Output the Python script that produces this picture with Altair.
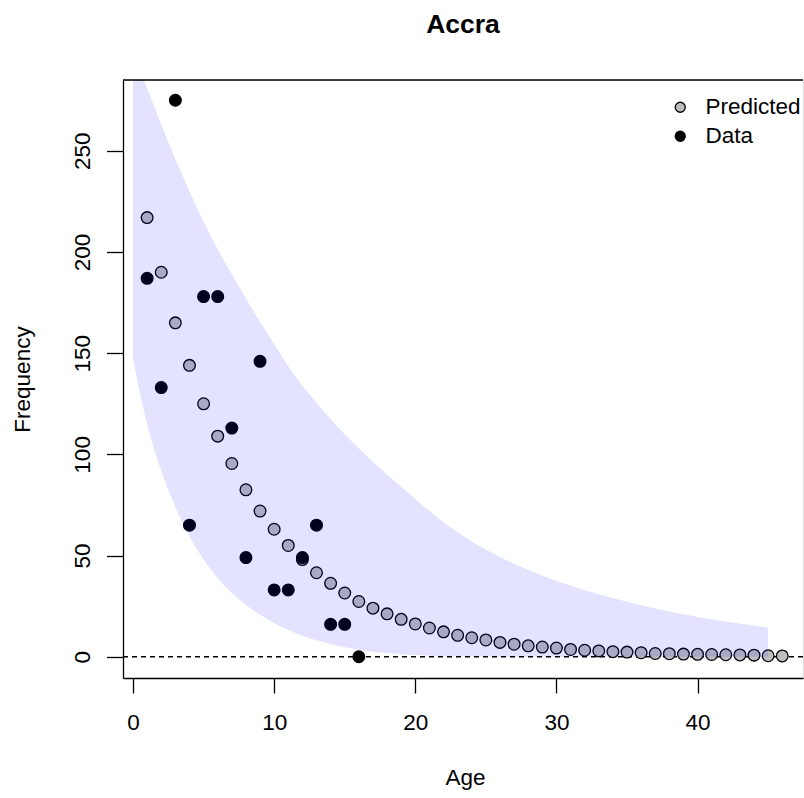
import altair as alt
import pandas as pd

# ---- data ----
pred_age = list(range(1, 47))
predicted = [217, 190, 165, 144, 125, 109, 95.5, 82.5, 72, 63,
             55, 48, 41.5, 36.3, 31.5, 27.3, 24, 21.2, 18.5, 16.2,
             14.2, 12.3, 10.6, 9.4, 8.3, 7.1, 6.2, 5.4, 4.8, 4.3,
             3.6, 3.2, 2.9, 2.5, 2.3, 2.0, 1.6, 1.5, 1.3, 1.2,
             1.1, 1.0, 0.9, 0.8, 0.5, 0.4]

data_age = list(range(1, 17))
observed = [187, 133, 275, 65, 178, 178, 113, 49, 146, 33, 33, 49, 65, 16, 16, 0]

band_age = list(range(0, 46))
band_upper = [300, 281, 263, 246, 230, 215, 201.5, 189, 177, 165.5,
              154.5, 143.5, 134, 125.5, 117.5, 110, 103, 96.3, 90, 84,
              78, 72, 66.5, 61.5, 57, 53, 49.3, 46, 43, 40.2,
              37.6, 35.2, 33, 30.9, 29, 27.2, 25.5, 23.9, 22.4, 21,
              19.7, 18.5, 17.4, 16.4, 15.4, 14.5]
band_lower = [147, 115, 92, 74, 59.5, 48, 38.8, 31.5, 25.6, 20.7,
              16.6, 13.2, 10.4, 8.1, 6.2, 4.7, 3.5, 2.5, 1.8, 1.25,
              0.85, 0.55, 0.35, 0.22, 0.14, 0.09, 0.05, 0.03, 0.02, 0.01,
              0.01, 0, 0, 0, 0, 0, 0, 0, 0, 0,
              0, 0, 0, 0, 0, 0]

x_ticks = [0, 10, 20, 30, 40]
y_ticks = [0, 50, 100, 150, 200, 250]
series_names = ["Predicted", "Data"]

# ---- tables ----
pts = pd.concat([
    pd.DataFrame({"Age": pred_age, "Frequency": predicted, "Series": "Predicted"}),
    pd.DataFrame({"Age": data_age, "Frequency": observed, "Series": "Data"}),
], ignore_index=True)
pts["order"] = range(len(pts))
band = pd.DataFrame({"Age": band_age, "upper": band_upper, "lower": band_lower})
zero = pd.DataFrame({"Frequency": [0]})

W, H = 680, 598
FONT = "Liberation Sans"
FS = 22.5

x_scale = alt.Scale(domain=[-0.71, 47.47], zero=False, nice=False)
y_scale = alt.Scale(domain=[-10.5, 285], zero=False, nice=False)

x_axis = alt.Axis(values=x_ticks, title="Age", grid=False,
                  domainColor="black", domainWidth=1.3,
                  tickColor="black", tickWidth=1.3, tickSize=15,
                  labelFont=FONT, labelFontSize=FS, labelColor="black",
                  labelPadding=36.5, labelBaseline="alphabetic", labelAngle=0,
                  labelFlush=False, labelOverlap=False,
                  titleFont=FONT, titleFontSize=FS, titleFontWeight="normal",
                  titleColor="black", titleX=342, titleY=106,
                  titleBaseline="alphabetic", titleAlign="center")
y_axis = alt.Axis(values=y_ticks, title="Frequency", grid=False,
                  domainColor="black", domainWidth=1.3,
                  tickColor="black", tickWidth=1.3, tickSize=16.5,
                  labelFont=FONT, labelFontSize=FS, labelColor="black",
                  labelAngle=270, labelAlign="center", labelBaseline="alphabetic",
                  labelPadding=17.2, labelFlush=False, labelOverlap=False,
                  titleFont=FONT, titleFontSize=FS, titleFontWeight="normal",
                  titleColor="black", titleAngle=270, titleX=-94, titleY=299,
                  titleBaseline="alphabetic", titleAlign="center")

X = alt.X("Age:Q", scale=x_scale, axis=x_axis)

dashed = alt.Chart(zero).mark_rule(color="black", strokeWidth=1.5, strokeDash=[5, 4]).encode(
    y=alt.Y("Frequency:Q", scale=y_scale, axis=y_axis)
)

legend = alt.Legend(title=None, orient="none", legendX=546, legendY=16,
                    labelFont=FONT, labelFontSize=FS, labelColor="black",
                    labelOffset=14, symbolSize=100, symbolStrokeWidth=1.3,
                    symbolType="circle", rowPadding=6, padding=0)

points = alt.Chart(pts).mark_point(shape="circle", filled=True, size=137,
                                   strokeWidth=1.3, opacity=1).encode(
    x=X,
    y=alt.Y("Frequency:Q", scale=y_scale, axis=y_axis),
    fill=alt.Fill("Series:N", scale=alt.Scale(domain=series_names, range=["#BEBEBE", "black"]),
                  legend=legend),
    stroke=alt.Stroke("Series:N", scale=alt.Scale(domain=series_names, range=["black", "black"]),
                      legend=legend),
    order=alt.Order("order:Q"),
)

shade = alt.Chart(band).mark_area(color="blue", opacity=0.11, clip=True,
                                  interpolate="monotone").encode(
    x=X,
    y=alt.Y("upper:Q", scale=y_scale, axis=y_axis),
    y2="lower:Q",
)

top_border = alt.Chart(pd.DataFrame({"k": [0]})).mark_rule(color="black", strokeWidth=1.3).encode(
    x=alt.value(0), x2=alt.value(W), y=alt.value(0)
)

chart = alt.layer(dashed, points, shade, top_border).properties(
    width=W, height=H,
    title=alt.TitleParams("Accra", font=FONT, fontSize=26.5, fontWeight="bold",
                          color="black", anchor="middle", frame="group",
                          baseline="alphabetic", offset=20),
    autosize=alt.AutoSizeParams(type="none"),
    padding={"left": 123, "top": 80, "right": 1, "bottom": 120},
).configure_view(stroke=None).configure(background="white")

chart.save("out.html", embed_options={"renderer": "svg", "actions": False})
